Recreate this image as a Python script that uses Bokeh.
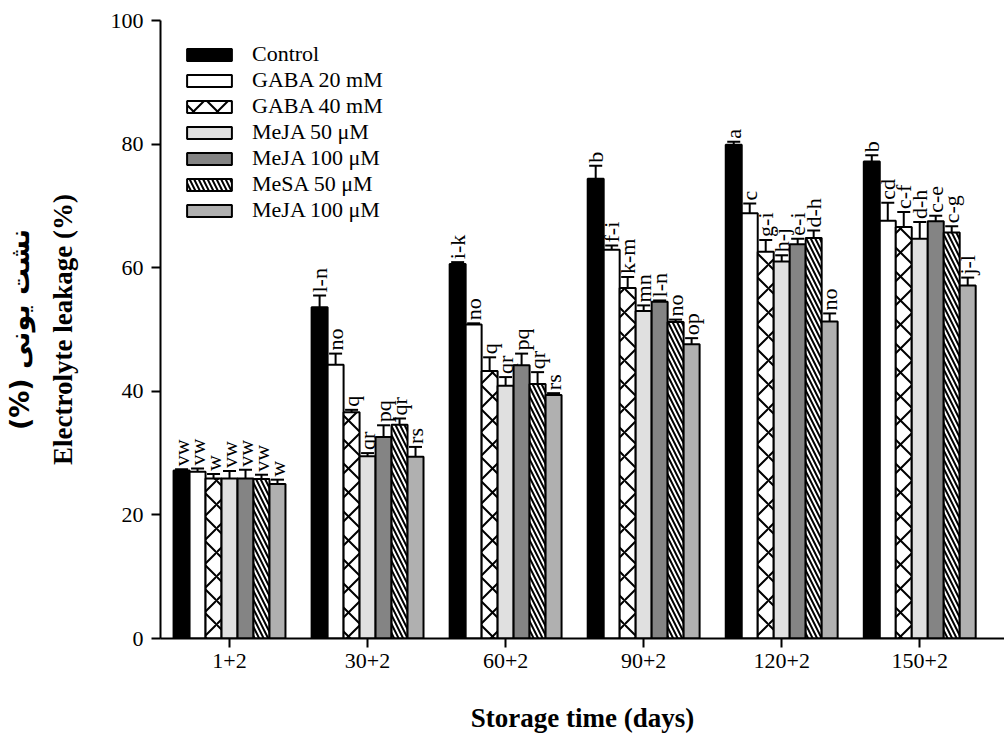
import math
from bokeh.plotting import figure
from bokeh.models import (ColumnDataSource, Range1d, FixedTicker, Whisker, TeeHead,
                          Legend, LegendItem, LinearAxis)
from bokeh.core.properties import value
from bokeh.embed import file_html
from bokeh.resources import INLINE

groups = ["1+2", "30+2", "60+2", "90+2", "120+2", "150+2"]

series_names = ["Control", "GABA 20 mM", "GABA 40 mM", "MeJA 50 μM",
                "MeJA 100 μM", "MeSA 50 μM", "MeJA 100 μM"]

control = [27.2, 53.6, 60.6, 74.4, 79.9, 77.2]
control_err = [0.2, 1.9, 0.3, 2.1, 0.5, 1.0]
control_let = ["vw", "l-n", "i-k", "b", "a", "b"]

gaba20 = [27.0, 44.3, 50.8, 62.9, 68.8, 67.6]
gaba20_err = [0.5, 1.8, 0.2, 0.7, 1.6, 2.9]
gaba20_let = ["vw", "no", "no", "f-i", "c", "cd"]

gaba40 = [25.9, 36.6, 43.3, 56.7, 62.6, 66.6]
gaba40_err = [0.7, 0.4, 2.2, 1.8, 1.9, 2.4]
gaba40_let = ["w", "q", "q", "k-m", "g-i", "c-f"]

meja50 = [25.9, 29.5, 40.9, 53.0, 61.0, 64.7]
meja50_err = [1.2, 0.5, 1.4, 0.9, 1.0, 2.7]
meja50_let = ["vw", "qr", "qr", "mn", "h-j", "d-h"]

meja100 = [25.9, 32.6, 44.2, 54.5, 63.8, 67.5]
meja100_err = [1.4, 1.9, 1.9, 0.2, 0.9, 0.9]
meja100_let = ["vw", "pq", "pq", "l-n", "e-i", "c-e"]

mesa50 = [25.8, 34.6, 41.2, 51.2, 64.8, 65.7]
mesa50_err = [0.7, 1.0, 1.9, 0.4, 1.2, 1.0]
mesa50_let = ["vw", "qr", "qr", "no", "d-h", "c-g"]

meja100b = [25.0, 29.4, 39.4, 47.6, 51.3, 57.1]
meja100b_err = [0.7, 1.6, 0.3, 1.0, 1.3, 1.3]
meja100b_let = ["w", "rs", "rs", "op", "no", "j-l"]

y_ticks = [0, 20, 40, 60, 80, 100]

all_vals = [control, gaba20, gaba40, meja50, meja100, mesa50, meja100b]
all_errs = [control_err, gaba20_err, gaba40_err, meja50_err, meja100_err, mesa50_err, meja100b_err]
all_lets = [control_let, gaba20_let, gaba40_let, meja50_let, meja100_let, mesa50_let, meja100b_let]

styles = [
    dict(fill_color="black"),
    dict(fill_color="white"),
    dict(fill_color="white", hatch_pattern="x", hatch_scale=24, hatch_weight=2, hatch_color="black"),
    dict(fill_color="#e0e0e0"),
    dict(fill_color="#848484"),
    dict(fill_color="white", hatch_pattern="\\", hatch_scale=9, hatch_weight=2, hatch_color="black"),
    dict(fill_color="#b0b0b0"),
]

SERIF = value("Liberation Serif")

p = figure(width=1004, height=738, output_backend="svg", toolbar_location=None,
           x_range=Range1d(0.5, 6.614), y_range=Range1d(0, 100),
           min_border_left=159, min_border_right=0, min_border_top=20, min_border_bottom=100)
p.outline_line_color = None
p.xgrid.visible = False
p.ygrid.visible = False

bw = 0.1158
renderers = []
for i, (vals, errs, lets, st) in enumerate(zip(all_vals, all_errs, all_lets, styles)):
    xs = [g + 1 + (i - 3) * bw for g in range(len(groups))]
    src = ColumnDataSource(dict(x=xs, top=vals, up=[v + e for v, e in zip(vals, errs)], lab=lets))
    r = p.vbar(x="x", top="top", width=bw, bottom=0, source=src,
               line_color="black", line_width=2, **st)
    renderers.append(r)
    w = Whisker(source=src, base="x", lower="top", upper="up", dimension="height",
                lower_head=None, upper_head=TeeHead(size=13, line_width=2, line_color="black"),
                line_width=2, line_color="black")
    p.add_layout(w)
    p.text(x="x", y="up", text="lab", source=src, angle=math.pi / 2,
           text_align="left", text_baseline="middle", y_offset=-3,
           text_font=SERIF, text_font_size="22px", text_color="black")

items = [LegendItem(label=n, renderers=[r]) for n, r in zip(series_names, renderers)]
legend = Legend(items=items, location=(21, 415), padding=0, spacing=0, margin=0,
                glyph_width=56, glyph_height=15, label_height=20, label_standoff=15,
                label_text_font="Liberation Serif", label_text_font_size="22px",
                label_text_color="black",
                border_line_alpha=0, background_fill_alpha=0)
p.add_layout(legend)

# axes
p.xaxis.ticker = FixedTicker(ticks=list(range(1, len(groups) + 1)))
p.xaxis.major_label_overrides = {i + 1: g for i, g in enumerate(groups)}
p.yaxis.ticker = FixedTicker(ticks=y_ticks)
for ax in (p.xaxis, p.yaxis):
    ax.axis_line_width = 2
    ax.major_tick_line_width = 2
    ax.major_tick_out = 9
    ax.major_tick_in = 0
    ax.minor_tick_line_color = None
    ax.major_label_text_font = "Liberation Serif"
    ax.major_label_text_font_size = "22px"
    ax.major_label_text_color = "black"
    ax.axis_label_text_font = "Liberation Serif"
    ax.axis_label_text_font_style = "bold"
    ax.axis_label_text_font_size = "27px"
    ax.axis_label_text_color = "black"
p.xaxis.major_label_standoff = 6
p.yaxis.major_label_standoff = 8
p.xaxis.axis_label = "Storage time (days)"
p.xaxis.axis_label_standoff = 32
p.yaxis.axis_label = "Electrolyte leakage (%)"
p.yaxis.axis_label_standoff = 30

# Persian title line, as an outer label-only axis
fa_axis = LinearAxis(ticker=FixedTicker(ticks=[]), axis_line_color=None,
                     major_tick_line_color=None, minor_tick_line_color=None,
                     axis_label="(%) نشت یونی", axis_label_standoff=10,
                     axis_label_text_font="DejaVu Sans", axis_label_text_font_style="bold",
                     axis_label_text_font_size="27px", axis_label_text_color="black")
p.add_layout(fa_axis, "left")

open("out.html", "w").write(file_html(p, INLINE))
